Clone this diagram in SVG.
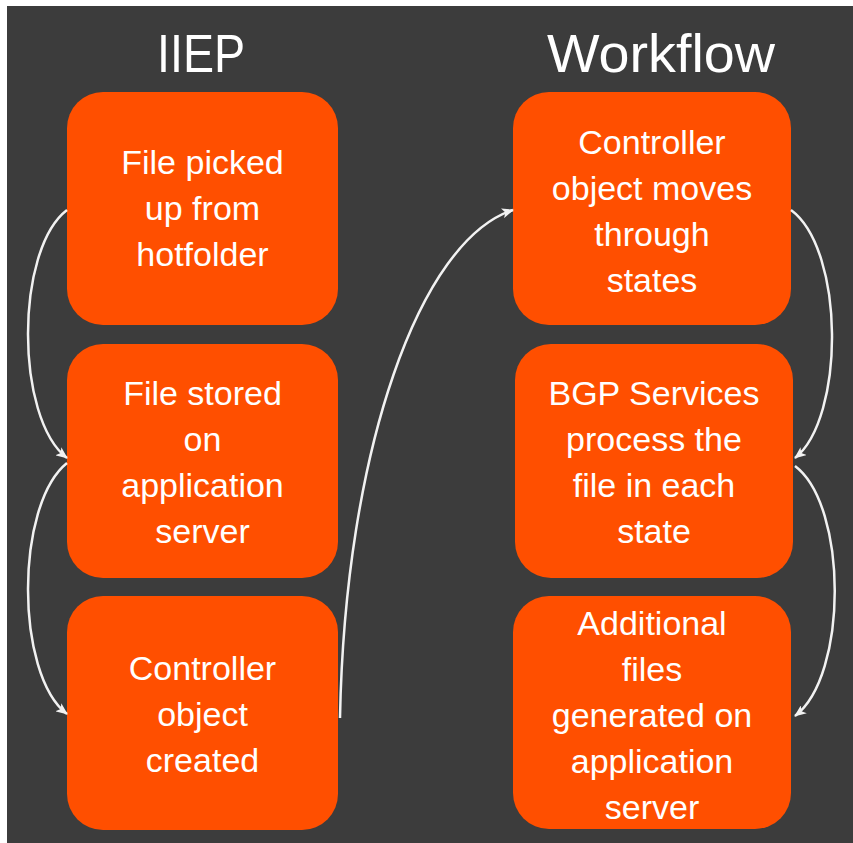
<svg xmlns="http://www.w3.org/2000/svg" width="853" height="843" viewBox="0 0 853 843">
<defs>
<style>
.box{fill:#FF4F00}
.t{font-family:"Liberation Sans",Arial,sans-serif;font-size:34px;fill:#FFFFFF;text-anchor:middle}
.title{font-family:"Liberation Sans",Arial,sans-serif;font-size:54px;fill:#FFFFFF;text-anchor:middle}
.c{fill:none;stroke:#F2F2F2;stroke-width:2.5}
</style>
<marker id="ah" viewBox="0 0 12 10" refX="11" refY="5" markerWidth="12" markerHeight="10" markerUnits="userSpaceOnUse" orient="auto">
<path d="M0,0 L12,5 L0,10 L3,5 Z" fill="#F2F2F2"/>
</marker>
</defs>
<rect x="0" y="0" width="853" height="843" fill="#FFFFFF"/>
<rect x="7" y="6" width="846" height="837" fill="#3C3C3C"/>
<g id="titles">
<text class="title" x="201" y="72" textLength="88" lengthAdjust="spacingAndGlyphs">IIEP</text>
<text class="title" x="661" y="72" textLength="228" lengthAdjust="spacingAndGlyphs">Workflow</text>
</g>
<g id="n1"><rect class="box" x="67" y="92" width="271" height="233" rx="36"/>
<text class="t" x="202.5" y="174">File picked</text><text class="t" x="202.5" y="220">up from</text><text class="t" x="202.5" y="266">hotfolder</text></g>
<g id="n2"><rect class="box" x="67" y="344" width="271" height="234" rx="36"/>
<text class="t" x="202.5" y="405">File stored</text><text class="t" x="202.5" y="451">on</text><text class="t" x="202.5" y="497">application</text><text class="t" x="202.5" y="543">server</text></g>
<g id="n3"><rect class="box" x="67" y="596" width="271" height="234" rx="36"/>
<text class="t" x="202.5" y="680">Controller</text><text class="t" x="202.5" y="726">object</text><text class="t" x="202.5" y="772">created</text></g>
<g id="n4"><rect class="box" x="513" y="92" width="278" height="233" rx="36"/>
<text class="t" x="652" y="154">Controller</text><text class="t" x="652" y="200">object moves</text><text class="t" x="652" y="246">through</text><text class="t" x="652" y="292">states</text></g>
<g id="n5"><rect class="box" x="515" y="344" width="278" height="234" rx="36"/>
<text class="t" x="654" y="405">BGP Services</text><text class="t" x="654" y="451">process the</text><text class="t" x="654" y="497">file in each</text><text class="t" x="654" y="543">state</text></g>
<g id="n6"><rect class="box" x="513" y="596" width="278" height="233" rx="36"/>
<text class="t" x="652" y="635">Additional</text><text class="t" x="652" y="681">files</text><text class="t" x="652" y="727">generated on</text><text class="t" x="652" y="773">application</text><text class="t" x="652" y="819">server</text></g>
<g id="connectors">
<path class="c" d="M67,210 C15,250 15,418 67,458" marker-end="url(#ah)"/>
<path class="c" d="M67,463 C15,505 15,674 67,714" marker-end="url(#ah)"/>
<path class="c" d="M340,718 C345,450 420,240 513,210" marker-end="url(#ah)"/>
<path class="c" d="M791,210 C845,250 845,418 795,458" marker-end="url(#ah)"/>
<path class="c" d="M795,466 C848,506 848,676 795,716" marker-end="url(#ah)"/>
</g>
</svg>
